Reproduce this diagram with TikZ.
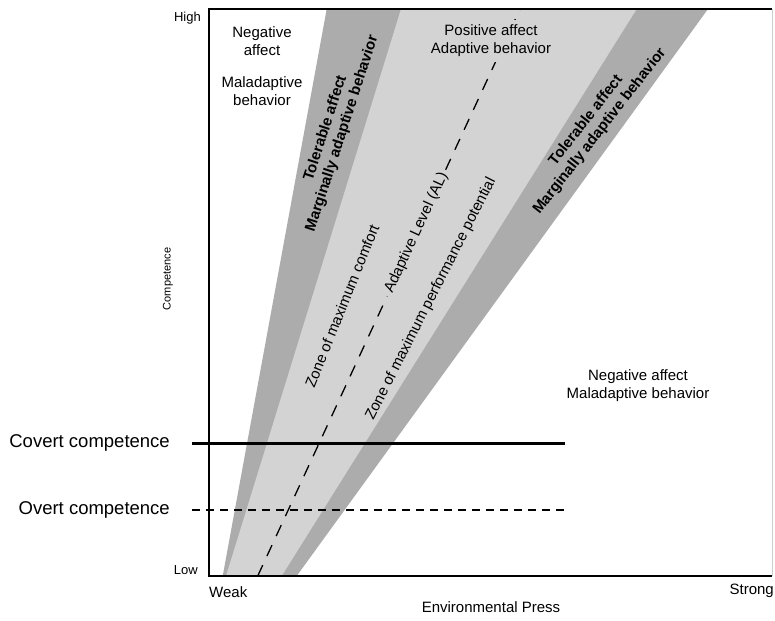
\documentclass[tikz,border=0pt]{standalone}
\usepackage{fontspec}
\setmainfont{Liberation Sans}
\usepackage{tikz}
\usetikzlibrary{positioning}
\definecolor{bandgray}{RGB}{172,172,172}
\definecolor{zonegray}{RGB}{211,211,211}
\definecolor{edgegray}{RGB}{205,205,205}
\tikzset{
    txt/.style={inner sep=0pt, align=center, font=\fontsize{15}{18}\selectfont},
    bandtxt/.style={txt, font=\fontsize{15}{17.5}\selectfont\bfseries},
    sidetxt/.style={inner sep=0pt, font=\fontsize{18.5}{22}\selectfont},
    ticktxt/.style={inner sep=0pt, font=\fontsize{13}{15}\selectfont},
    axisline/.style={line width=1.3pt, line join=miter},
    aldash/.style={line width=1.3pt, dash pattern=on 12pt off 10pt}
}

\begin{document}
\begin{tikzpicture}[x=1pt, y=-1pt]
    \useasboundingbox (0,0) rectangle (775,620);

    % band edges at the bottom and at the top of the plot
    \coordinate (a1) at (222.7,576); \coordinate (b1) at (326.7,9);
    \coordinate (a2) at (226,576);   \coordinate (b2) at (401,9);
    \coordinate (a3) at (281.7,576); \coordinate (b3) at (636.7,9);
    \coordinate (a4) at (296.7,576); \coordinate (b4) at (708,9);
    \fill[bandgray] (a1) -- (b1) -- (b4) -- (a4) -- cycle;
    \fill[zonegray] (a2) -- (b2) -- (b3) -- (a3) -- cycle;

    % frame
    \coordinate (origin) at (209,576);
    \coordinate (topleft) at (209,9);
    \coordinate (topright) at (772,9);
    \coordinate (botright) at (772,576);
    \draw[edgegray, line width=1pt] (topright) -- (botright);
    \draw[axisline] (botright) -- (origin) -- (topleft) -- (topright);

    % adaptive level
    \coordinate (albot) at (257.7,576);
    \coordinate (altop) at (520,9);
    \path (albot) -- (altop) node[txt, sloped, pos=0.605, inner sep=4pt] (al) {Adaptive Level (AL)};
    \draw[aldash] (albot) -- (al.west);
    \draw[aldash] (al.east) -- (altop);

    % region labels
    \node[txt] (negtop) at (262,41) {Negative\\affect};
    \node[txt] (maltop) at (262,91) {Maladaptive\\behavior};
    \node[txt, fill=zonegray, inner sep=5pt] (pos) at (491,41) {Positive affect\\Adaptive behavior};
    \node[txt] (negright) at (638,386) {Negative affect\\Maladaptive behavior};
    \node[bandtxt, rotate=72] (tolleft) at (334,131) {Tolerable affect\\Marginally adaptive behavior};
    \node[bandtxt, rotate=52] (tolright) at (593,126) {Tolerable affect\\Marginally adaptive behavior};
    \node[txt, rotate=68] (comfort) at (342,306) {Zone of maximum comfort};
    \node[txt, rotate=63] (perf) at (431,299) {Zone of maximum performance potential};

    % competence levels
    \node[sidetxt, anchor=east] (covert) at (170,443) {Covert competence};
    \node[sidetxt, anchor=east] (overt) at (170,510) {Overt competence};
    \coordinate (covL) at (192,443); \coordinate (covR) at (565,443);
    \coordinate (ovL) at (192,510);  \coordinate (ovR) at (565,510);
    \draw[line width=3pt] (covL) -- (covR);
    \draw[line width=1.8pt, dash pattern=on 8pt off 6pt] (ovL) -- (ovR);

    % axis labels
    \node[ticktxt, anchor=east] (high) at (201,18) {High};
    \node[ticktxt, anchor=east] (low) at (198,570) {Low};
    \node[txt, anchor=west] (weak) at (209,592) {Weak};
    \node[txt, anchor=east] (strong) at (774,591) {Strong};
    \node[txt] (press) at (491,607) {Environmental Press};
    \node[inner sep=0pt, font=\fontsize{11}{13}\selectfont, rotate=90] (comp) at (168,279) {Competence};
\end{tikzpicture}
\end{document}
